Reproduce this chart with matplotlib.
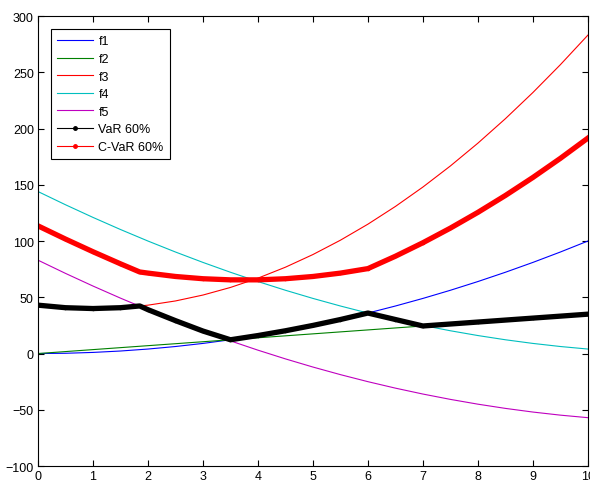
import matplotlib.pyplot as plt
from matplotlib.lines import Line2D

# values
x = [0, 0.5, 1, 1.5, 2, 2.5, 3, 3.5, 4, 4.5, 5, 5.5, 6, 6.5, 7, 7.5, 8, 8.5, 9, 9.5, 10]
f1 = [0, 0.25, 1, 2.25, 4, 6.25, 9, 12.25, 16, 20.25, 25, 30.25, 36, 42.25, 49,
      56.25, 64, 72.25, 81, 90.25, 100]
f2 = [0, 1.75, 3.5, 5.25, 7, 8.75, 10.5, 12.25, 14, 15.75, 17.5, 19.25, 21, 22.75,
      24.5, 26.25, 28, 29.75, 31.5, 33.25, 35]
f3 = [43, 40.75, 40, 40.75, 43, 46.75, 52, 58.75, 67, 76.75, 88, 100.75, 115,
      130.75, 148, 166.75, 187, 208.75, 232, 256.75, 283]
f4 = [144, 132.25, 121, 110.25, 100, 90.25, 81, 72.25, 64, 56.25, 49, 42.25, 36,
      30.25, 25, 20.25, 16, 12.25, 9, 6.25, 4]
f5 = [83, 71.25, 60, 49.25, 39, 29.25, 20, 11.25, 3, -4.75, -12, -18.75, -25,
      -30.75, -36, -40.75, -45, -48.75, -52, -54.75, -57]

x_var = [0, 0.5, 1, 1.5, 1.85, 2, 2.5, 3, 3.5, 4, 4.5, 5, 5.5, 6, 6.5, 7, 8, 9, 10]
var60 = [43, 40.75, 40, 40.75, 42.3, 39, 29.25, 20, 12.25, 16, 20.25, 25, 30.25,
         36, 30.25, 24.5, 28, 31.5, 35]

x_cvar = [0, 0.5, 1, 1.5, 1.85, 2, 2.5, 3, 3.5, 4, 4.5, 5, 5.5, 6, 6.5, 7, 7.5,
          8, 8.5, 9, 9.5, 10]
cvar60 = [113.5, 101.75, 90.5, 79.75, 72.5, 71.5, 68.5, 66.5, 65.5, 65.5, 66.5,
          68.5, 71.5, 75.5, 86.5, 98.5, 111.5, 125.5, 140.5, 156.5, 173.5, 191.5]

labels = ['f1', 'f2', 'f3', 'f4', 'f5', 'VaR 60%', 'C-VaR 60%']
colors = ['b', 'g', 'r', 'c', 'm', 'k', 'r']

plt.rcParams['font.family'] = ['Liberation Sans', 'DejaVu Sans']

fig = plt.figure(figsize=(5.9, 4.81), dpi=100)
ax = fig.add_axes([0.0644, 0.029, 0.932, 0.9356])

for ys, c in zip([f1, f2, f3, f4, f5], colors[:5]):
    ax.plot(x, ys, color=c, lw=0.8)
ax.plot(x_var, var60, color='k', lw=3.8, marker='.', markersize=3)
ax.plot(x_cvar, cvar60, color='r', lw=3.8, marker='.', markersize=3)

ax.set_xlim(0, 10)
ax.set_ylim(-100, 300)
ax.set_xticks(range(0, 11))
ax.set_yticks(range(-100, 301, 50))
ax.tick_params(direction='in', top=True, right=True, length=4, labelsize=9,
               width=0.8, pad=3)
for s in ax.spines.values():
    s.set_linewidth(0.8)

# legend lines stay thin, like in the original
handles = []
for i, c in enumerate(colors):
    if i >= 5:
        handles.append(Line2D([], [], color=c, lw=0.8, marker='.', markersize=5))
    else:
        handles.append(Line2D([], [], color=c, lw=0.8))
leg = ax.legend(handles, labels, loc='upper left', fontsize=9, fancybox=False,
                framealpha=1, edgecolor='k', labelspacing=0.45, handlelength=2.9,
                handletextpad=0.4, borderpad=0.5, borderaxespad=0,
                bbox_to_anchor=(0.0236, 0.971))
leg.get_frame().set_linewidth(0.8)

fig.savefig('out.png', dpi=100)
